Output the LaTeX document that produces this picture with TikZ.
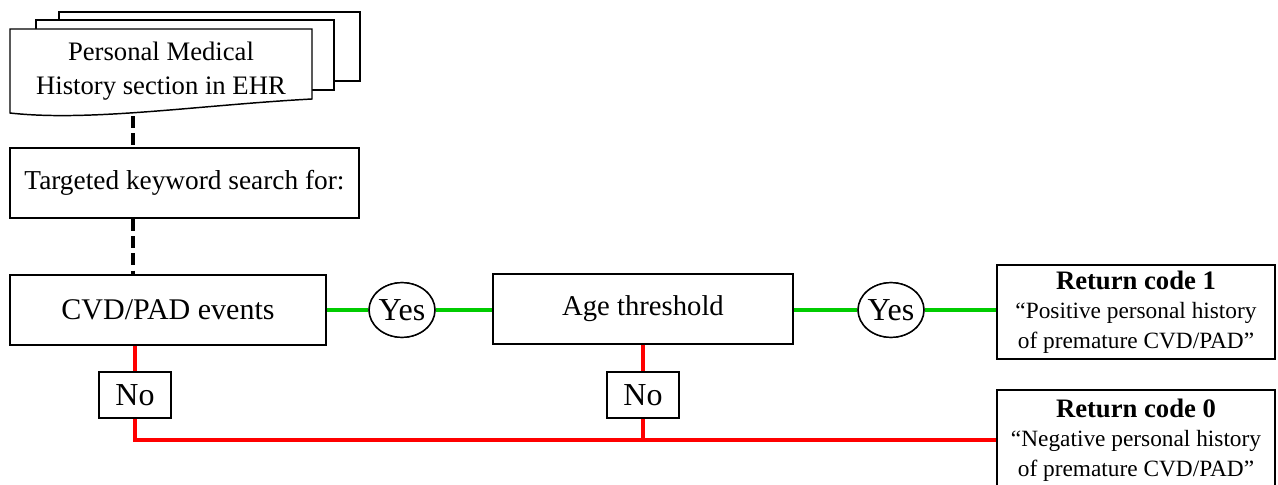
\documentclass[tikz,border=0pt]{standalone}
\usepackage{fontspec}
\setmainfont{Liberation Serif}
\usetikzlibrary{shapes.geometric}

\tikzset{
  box/.style={draw, rectangle, line width=1.1pt, fill=white, inner sep=0pt, align=center},
  answer/.style={draw, ellipse, line width=1.1pt, fill=white, inner sep=0pt,
    minimum width=49pt, minimum height=41pt, font=\fontsize{24}{26}\selectfont},
  nobox/.style={box, minimum width=54pt, minimum height=34.5pt, font=\fontsize{24}{26}\selectfont},
  page/.style={draw, line width=1.1pt, fill=white},
  dashlink/.style={line width=2.3pt, dash pattern=on 9pt off 4pt},
  yeslink/.style={line width=3pt, draw={rgb,255:red,0;green,204;blue,0}},
  nolink/.style={line width=2.6pt, draw={rgb,255:red,255;green,0;blue,0}},
}

\begin{document}
\begin{tikzpicture}[x=0.75pt, y=-0.75pt]
  \useasboundingbox (0,0) rectangle (1278,485);
  % stacked EHR document
  \draw[page] (59,12) rectangle (360,81);
  \draw[page] (36,20) rectangle (334,90);
  \draw[page] (10,29) -- (312,29) -- (312,99)
    .. controls (200,105) and (90,122) .. (10,113) -- cycle;
  \node[align=center, font=\fontsize{20}{25}\selectfont] (doc) at (161,71)
    {Personal Medical\\History section in EHR};
  \coordinate (docb) at (133,116);
  \node[box, minimum width=261.75pt, minimum height=52.5pt, font=\fontsize{20.5}{22}\selectfont]
    (search) at (184.5,183) {Targeted keyword search for:};
  \node[box, minimum width=237pt, minimum height=52.5pt, font=\fontsize{22.5}{24}\selectfont]
    (cvd) at (168,310) {CVD/PAD events};
  \node[answer] (yes1) at (402,310) {Yes};
  \node[box, minimum width=225pt, minimum height=52.5pt, font=\fontsize{21.5}{24}\selectfont]
    (age) at (643,309) {Age threshold};
  \node[answer] (yes2) at (891,310) {Yes};
  \node[box, minimum width=208.5pt, minimum height=70.5pt, font=\fontsize{17.5}{22}\selectfont]
    (ret1) at (1136,312)
    {{\fontsize{20}{22}\selectfont\bfseries Return code 1}\\“Positive personal history\\of premature CVD/PAD”};
  \node[box, minimum width=208.5pt, minimum height=75pt, font=\fontsize{17.5}{22}\selectfont]
    (ret0) at (1136,440)
    {{\fontsize{20}{22}\selectfont\bfseries Return code 0}\\“Negative personal history\\of premature CVD/PAD”};
  \node[nobox] (no1) at (135,395) {No};
  \node[nobox] (no2) at (643,395) {No};
  % search links
  \draw[dashlink] (docb) -- (docb |- search.north);
  \draw[dashlink] (search.south -| docb) -- (cvd.north -| docb);
  % yes path
  \draw[yeslink] (cvd.east |- yes1) -- (yes1);
  \draw[yeslink] (yes1) -- (yes1 -| age.west);
  \draw[yeslink] (age.east |- yes2) -- (yes2);
  \draw[yeslink] (yes2) -- (yes2 -| ret1.west);
  % no path
  \draw[nolink] (cvd.south -| no1) -- (no1);
  \draw[nolink] (age.south -| no2) -- (no2);
  \draw[nolink] (no1.south) |- (ret0.west);
  \draw[nolink] (no2.south) -- (no2 |- ret0.west);
  \node[nobox] at (no1) {No};
  \node[nobox] at (no2) {No};
  \node[answer] at (yes1) {Yes};
  \node[answer] at (yes2) {Yes};
\end{tikzpicture}
\end{document}
